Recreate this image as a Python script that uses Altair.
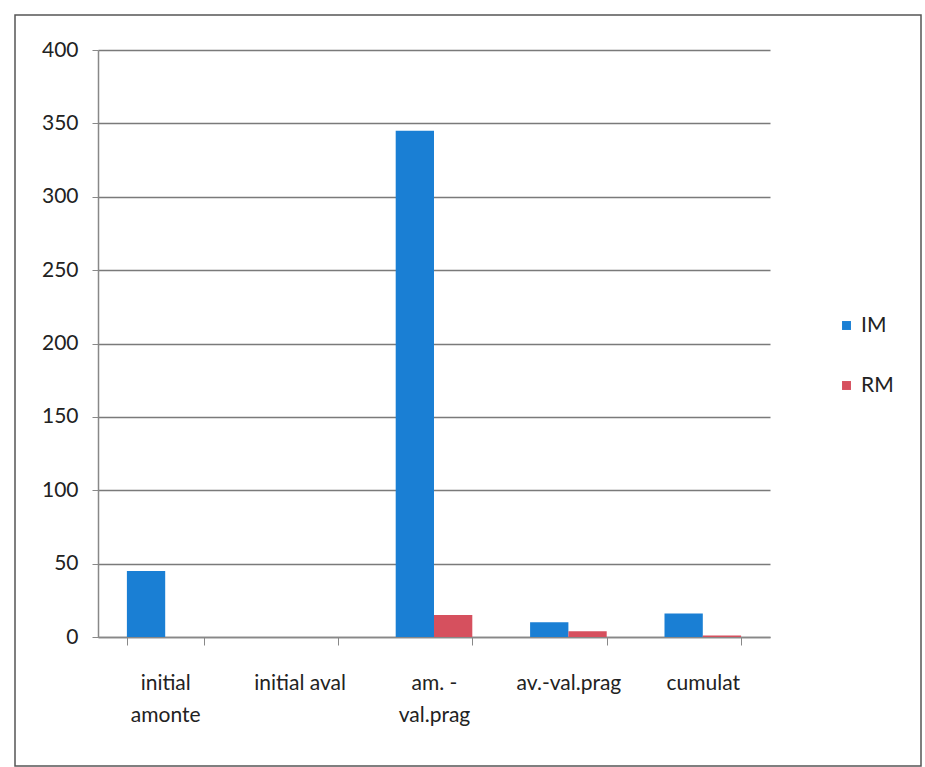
import altair as alt
import pandas as pd

categories = ["initial\namonte", "initial aval", "am. -\nval.prag", "av.-val.prag", "cumulat"]
im_values = [45, 0, 345, 10, 16]
rm_values = [0, 0, 15, 4, 1]
series = ["IM", "RM"]
colors = ["#1a7fd4", "#d6505e"]

rows = []
for c, a, b in zip(categories, im_values, rm_values):
    rows.append({"cat": c, "series": "IM", "value": a})
    rows.append({"cat": c, "series": "RM", "value": b})
df = pd.DataFrame(rows)

FONT = "Lato"

bars = alt.Chart(df).mark_bar().encode(
    x=alt.X("cat:N", sort=categories, title=None,
            scale=alt.Scale(paddingInner=0.43, paddingOuter=0.215),
            axis=alt.Axis(labelAngle=0, tickBand="extent", labelExpr="split(datum.label, '\\n')",
                          labelFontSize=21, labelFont=FONT, labelColor="#222",
                          labelPadding=27, labelLineHeight=32, tickSize=8,
                          domainColor="#888", tickColor="#888", domainWidth=1.5,
                          grid=False)),
    xOffset=alt.XOffset("series:N", sort=series, scale=alt.Scale(paddingInner=0, paddingOuter=0)),
    y=alt.Y("value:Q", title=None,
            scale=alt.Scale(domain=[0, 400], nice=False),
            axis=alt.Axis(values=[0, 50, 100, 150, 200, 250, 300, 350, 400],
                          labelFontSize=21, labelFont=FONT, labelColor="#222",
                          labelPadding=14, tickSize=6, domainColor="#888", tickColor="#888",
                          domainWidth=1.5, gridColor="#7a7a7a", gridWidth=1.5)),
    color=alt.Color("series:N", sort=series, title=None,
                    scale=alt.Scale(domain=series, range=colors),
                    legend=alt.Legend(orient="none", legendX=738, legendY=265,
                                      symbolType="square", symbolSize=80,
                                      symbolStrokeWidth=0, labelFontSize=21, labelFont=FONT,
                                      labelColor="#222", rowPadding=38, labelOffset=4)),
)

frame = alt.Chart(pd.DataFrame({"k": [0]})).mark_rect(
    fill=None, stroke="#555", strokeWidth=1.5
).encode(x=alt.value(-83), x2=alt.value(823), y=alt.value(-35), y2=alt.value(716))

chart = alt.layer(frame, bars).properties(
    width=672, height=587,
    padding={"left": 98, "top": 50, "right": 155, "bottom": 130},
    autosize=alt.AutoSizeParams(type="none"),
    background="white",
).configure_view(stroke=None)

chart.save("out.html", embed_options={"renderer": "svg", "actions": False})
